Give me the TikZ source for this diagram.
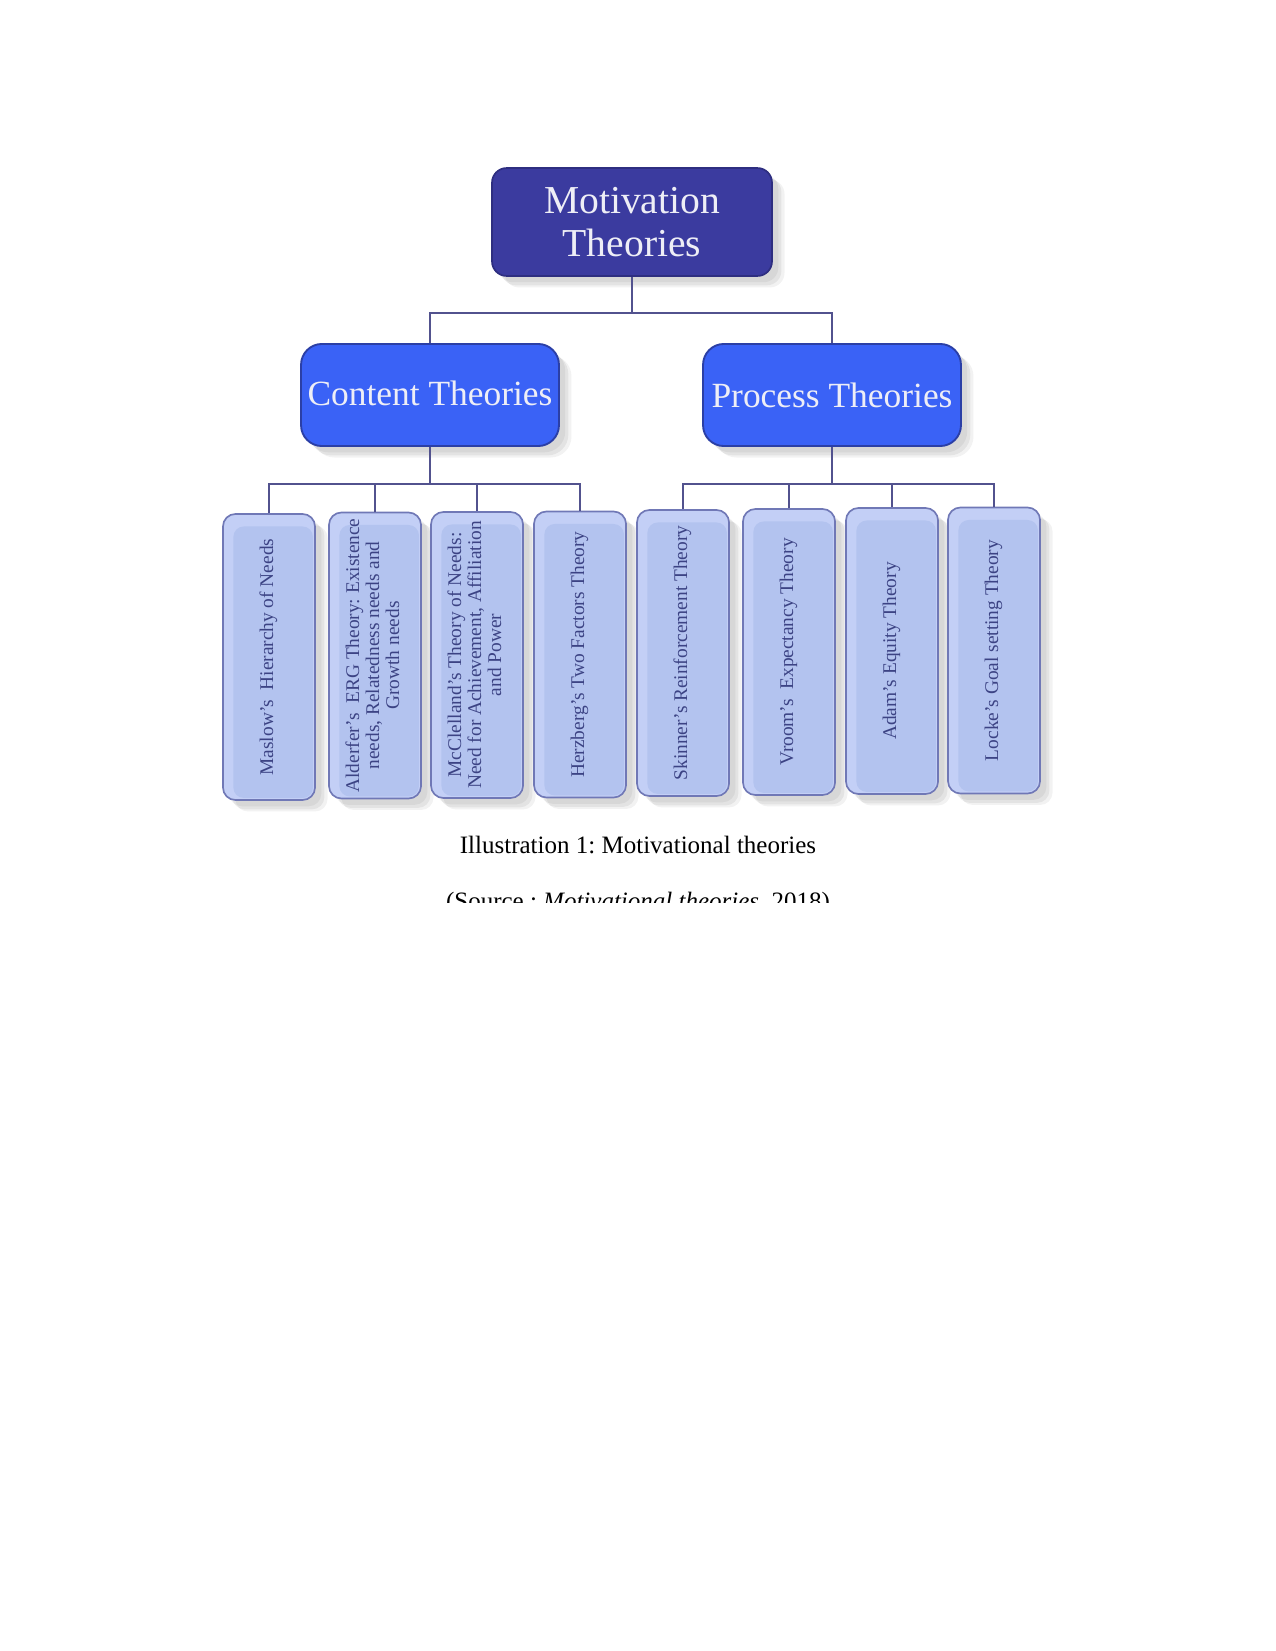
\documentclass[tikz,border=0pt]{standalone}
\usepackage{fontspec}
\setmainfont{Liberation Serif}
\usetikzlibrary{shadows}
\frenchspacing
\definecolor{topfill}{HTML}{3B3B9F}
\definecolor{topdraw}{HTML}{2E2E80}
\definecolor{midfill}{HTML}{3A62F6}
\definecolor{middraw}{HTML}{2B3FA6}
\definecolor{leafout}{HTML}{C3CFF6}
\definecolor{leafin}{HTML}{B3C3EF}
\definecolor{leafdraw}{HTML}{7078B6}
\definecolor{leaftext}{HTML}{3C4384}
\definecolor{conncol}{HTML}{52528E}
\definecolor{boxtext}{HTML}{EEEEF6}
\newcommand\leaffont{\fontsize{9.3}{9.6}\selectfont}
\newcommand\leaflabel[1]{\rotatebox{90}{\begin{tabular}{@{}c@{}}#1\end{tabular}}}
\begin{document}
\begin{tikzpicture}[x=0.48pt,y=-0.48pt,
  softshadow/.style={
    drop shadow={shadow xshift=6pt,shadow yshift=-5.5pt,fill=black,opacity=0.05},
    drop shadow={shadow xshift=4.5pt,shadow yshift=-4.5pt,fill=black,opacity=0.06},
    drop shadow={shadow xshift=3pt,shadow yshift=-3pt,fill=black,opacity=0.05}},
  topbox/.style={rectangle, rounded corners=7pt, draw=topdraw, line width=0.8pt,
    fill=topfill, text=boxtext, minimum width=134.4pt, minimum height=51.8pt,
    inner sep=0pt, align=center, font=\fontsize{19}{21}\selectfont, softshadow},
  midbox/.style={rectangle, rounded corners=10pt, draw=middraw, line width=0.9pt,
    fill=midfill, text=boxtext, minimum width=123.8pt, minimum height=49pt,
    inner sep=0pt, align=center, font=\fontsize{17}{20}\selectfont, softshadow},
  leaf/.style={rectangle, rounded corners=6pt, draw=leafdraw, line width=0.8pt,
    fill=leafout, minimum width=44.2pt, minimum height=137.3pt, inner sep=0pt,
    text=leaftext, font=\leaffont, softshadow,
    path picture={\fill[leafin, rounded corners=5pt]
      ([xshift=5pt,yshift=-6pt]path picture bounding box.north west) rectangle
      ([xshift=-1pt,yshift=1pt]path picture bounding box.south east);}},
  conn/.style={draw=conncol, line width=1pt},
  caption/.style={font=\fontsize{12}{14}\selectfont, anchor=base, inner sep=0pt}
]
\fill[white] (0,0) rectangle (1275,1651);
\useasboundingbox (0,0) rectangle (1275,1651);

% top
\node[topbox] (top) at (632,222) {Motivation\\[0pt]Theories};

% middle
\node[midbox] (content) at (430,395) {\raisebox{2pt}{Content Theories}};
\node[midbox] (process) at (832,395) {\raisebox{-1pt}{Process Theories}};

% leaves
\node[leaf] (l1) at (269,657) {\leaflabel{Maslow's~ Hierarchy of Needs}};
\node[leaf] (l2) at (375,655.5) {\leaflabel{Alderfer's~ ERG Theory: Existence\\ needs, Relatedness needs and\\ Growth needs}};
\node[leaf] (l3) at (477,655) {\leaflabel{McClelland's Theory of Needs:\\ Need for Achievement, Affiliation\\ and Power}};
\node[leaf] (l4) at (580,654.5) {\leaflabel{Herzberg's Two Factors Theory}};
\node[leaf] (l5) at (683,653) {\leaflabel{Skinner's Reinforcement Theory}};
\node[leaf] (l6) at (789,652) {\leaflabel{Vroom's~ Expectancy Theory}};
\node[leaf] (l7) at (892,651) {\leaflabel{Adam's Equity Theory}};
\node[leaf] (l8) at (994,650.5) {\leaflabel{Locke's Goal setting Theory}};

% connectors
\coordinate (jt) at (632,313);
\coordinate (jc) at (430,484);
\coordinate (jp) at (832,484);
\draw[conn] (top.south) -- (jt);
\draw[conn] (content.north) |- (jt) -| (process.north);
\draw[conn] (content.south) -- (jc);
\draw[conn] (l1.north) |- (jc) -| (l4.north);
\draw[conn] (l2.north) -- (l2.north |- jc);
\draw[conn] (l3.north) -- (l3.north |- jc);
\draw[conn] (process.south) -- (jp);
\draw[conn] (l5.north) |- (jp) -| (l8.north);
\draw[conn] (l6.north) -- (l6.north |- jp);
\draw[conn] (l7.north) -- (l7.north |- jp);

% caption
\node[caption] (cap) at (638,853) {Illustration 1: Motivational theories};
\begin{scope}
\clip (0,0) rectangle (1275,902);
\node[caption] (src) at (638,909) {(Source : \textit{Motivational theories}, 2018)};
\end{scope}
\end{tikzpicture}
\end{document}
